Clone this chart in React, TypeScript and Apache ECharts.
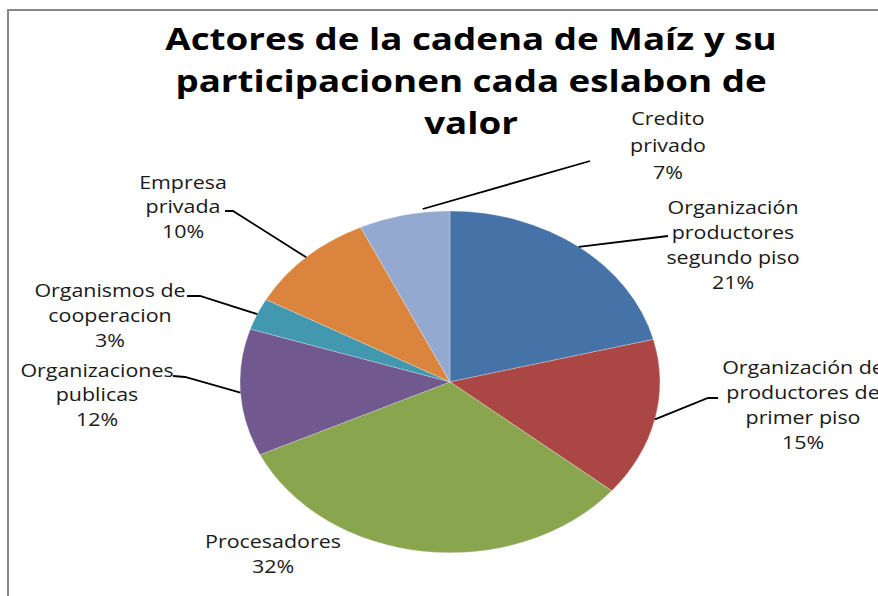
import React, { useEffect, useRef } from "react";
import * as echarts from "echarts";

// ---- Data ----
const CATEGORIES: string[] = [
  "Organización productores segundo piso",
  "Organización de productores de primer piso",
  "Procesadores",
  "Organizaciones publicas",
  "Organismos de cooperacion",
  "Empresa privada",
  "Credito privado",
];
const LABEL_LINES: string[][] = [
  ["Organización", "productores", "segundo piso"],
  ["Organización de", "productores de", "primer piso"],
  ["Procesadores"],
  ["Organizaciones", "publicas"],
  ["Organismos de", "cooperacion"],
  ["Empresa", "privada"],
  ["Credito", "privado"],
];
const VALUES: number[] = [21, 15, 32, 12, 3, 10, 7];
const TITLE_LINES: string[] = [
  "Actores de la cadena de Maíz y su",
  "participacionen cada eslabon de",
  "valor",
];

// ---- Styles / layout ----
const COLORS = ["#4572A7", "#AA4643", "#89A54E", "#71588F", "#4198AF", "#DB843D", "#93A9CF"];
const PIE = { cx: 450, cy: 382, rx: 210, ry: 171 };
// label center x, first-line center y, leader points from label side, anchor fraction within slice
const LABEL_LAYOUT = [
  { x: 733, y: 207, lh: 25, lead: [[668, 236]], frac: 0.5, r: 1 },
  { x: 803, y: 367, lh: 25, lead: [[718, 398], [708, 398]], frac: 0.5, r: 1 },
  { x: 273, y: 541, lh: 25, lead: [], frac: 0.5, r: 1 },
  { x: 97, y: 370, lh: 24.5, lead: [[173, 376], [185, 377]], frac: 0.5, r: 1 },
  { x: 110, y: 290, lh: 25, lead: [[187, 296], [200, 296]], frac: 0.5, r: 1 },
  { x: 183, y: 182, lh: 24.5, lead: [[225, 211], [233, 211]], frac: 0.5, r: 1 },
  { x: 668, y: 118, lh: 27, lead: [[590, 161]], frac: 0.71, r: 1.02 },
];
const LABEL_FONT = '18px "Open Sans"';
const LABEL_SCALE_X = 1.19;
const TITLE_SCALE_X = 1.225;

const TOTAL = VALUES.reduce((a, b) => a + b, 0);
const CUM: number[] = [];
VALUES.reduce((acc, v, i) => {
  CUM[i] = acc;
  return acc + v;
}, 0);

export default function App() {
  const ref = useRef<HTMLDivElement>(null);
  useEffect(() => {
    if (!ref.current) return;
    const chart = echarts.init(ref.current, null, { renderer: "svg" });
    const toAngle = (v: number) => -Math.PI / 2 + (2 * Math.PI * v) / TOTAL;
    const option: any = {
      animation: false,
      backgroundColor: "#ffffff",
      graphic: [
        {
          type: "rect",
          z: -1,
          shape: { x: 8, y: 10, width: 1000, height: 1000 },
          style: { fill: "none", stroke: "#888888", lineWidth: 2 },
        },
        {
          type: "text",
          x: 471,
          y: 17,
          scaleX: TITLE_SCALE_X,
          style: {
            text: TITLE_LINES.join("\n"),
            font: 'bold 30px "Open Sans"',
            fill: "#000000",
            align: "center",
            verticalAlign: "top",
            textAlign: "center",
            textVerticalAlign: "top",
            lineHeight: 42,
          },
        },
      ],
      series: [
        {
          type: "custom",
          coordinateSystem: "none",
          data: VALUES.map((v, i) => ({ value: v, name: CATEGORIES[i] })),
          renderItem: (params: any, api: any) => {
            const i = params.dataIndex;
            const v = api.value(0);
            const start = CUM[i];
            const a0 = toAngle(start);
            const a1 = toAngle(start + v);
            const lay = LABEL_LAYOUT[i];
            const am = toAngle(start + v * lay.frac);
            const ex = PIE.cx + PIE.rx * lay.r * Math.cos(am);
            const ey = PIE.cy + PIE.ry * lay.r * Math.sin(am);
            const pct = Math.round((v / TOTAL) * 100) + "%";
            const children: any[] = [
              {
                type: "sector",
                shape: { cx: PIE.cx, cy: PIE.cy, r: PIE.rx, r0: 0, startAngle: a0, endAngle: a1, clockwise: true },
                originX: PIE.cx,
                originY: PIE.cy,
                scaleY: PIE.ry / PIE.rx,
                style: { fill: COLORS[i], stroke: "rgba(255,255,255,0.5)", lineWidth: 0.6 },
              },
            ];
            if (lay.lead.length) {
              children.push({
                type: "polyline",
                shape: { points: [...lay.lead, [ex, ey]] },
                style: { stroke: "#000000", lineWidth: 1.8, fill: "none" },
                z2: 5,
              });
            }
            children.push({
              type: "text",
              x: lay.x,
              y: lay.y - lay.lh / 2,
              scaleX: LABEL_SCALE_X,
              z2: 10,
              style: {
                text: [...LABEL_LINES[i], pct].join("\n"),
                font: LABEL_FONT,
                fill: "#1a1a1a",
                align: "center",
                verticalAlign: "top",
                lineHeight: lay.lh,
              },
            });
            return { type: "group", children };
          },
        },
      ],
    };
    chart.setOption(option);
    return () => chart.dispose();
  }, []);
  return (
    <div
      ref={ref}
      style={{ position: "absolute", left: 0, top: 0, width: 878, height: 596 }}
    />
  );
}
